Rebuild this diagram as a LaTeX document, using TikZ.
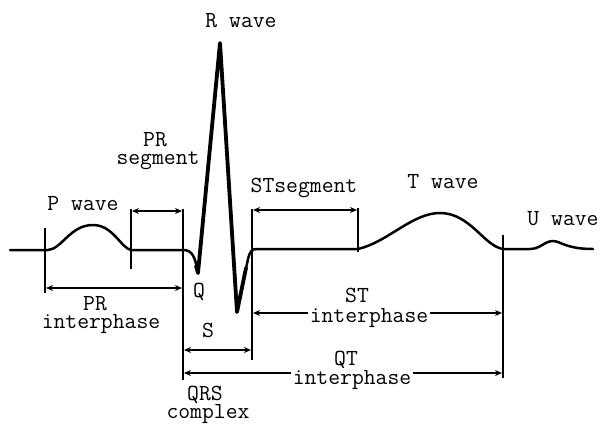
\documentclass[tikz,border=0pt]{standalone}
\usetikzlibrary{arrows.meta}
\begin{document}
\begin{tikzpicture}[x=1pt,y=-1pt,
  lbl/.style={anchor=base,inner sep=0pt,font=\fontsize{23}{23}\ttfamily},
  cut/.style={lbl,fill=white,inner xsep=1.5pt,inner ysep=2pt},
  tick/.style={line width=1.8pt},
  span/.style={line width=1.8pt,{Stealth[length=7pt,width=6pt]}-{Stealth[length=7pt,width=6pt]}},
  trace/.style={line width=2.5pt,line join=round,line cap=round}]
\useasboundingbox[fill=white] (0,0) rectangle (600,424);
% vertical ticks
\coordinate (v1t) at (45,228); \coordinate (v1b) at (45,293);
\coordinate (v2t) at (131,209); \coordinate (v2b) at (131,269);
\coordinate (v3t) at (183,209); \coordinate (v3b) at (183,380);
\coordinate (v4t) at (252,209); \coordinate (v4b) at (252,360);
\coordinate (v5t) at (358,208); \coordinate (v5b) at (358,252);
\coordinate (v6t) at (503,235); \coordinate (v6b) at (503,378);
\foreach \v in {v1,v2,v3,v4,v5,v6} \draw[tick] (\v t) -- (\v b);
% trace
\draw[trace] (10,250) -- (48,250)
  .. controls (62,249) and (70,225) .. (93,225)
  .. controls (113,225) and (121,248) .. (131,250) -- (183,250)
  .. controls (192,250) and (195,256) .. (198,273) -- (220,43) -- (237,312) -- (248,259)
  .. controls (250,251) and (252,249) .. (257,249) -- (358,249)
  .. controls (388,242) and (412,213) .. (440,213)
  .. controls (470,213) and (484,246) .. (503,249) -- (530,249)
  .. controls (540,249) and (545,241) .. (553,241)
  .. controls (560,241) and (566,249) .. (593,249);
\draw[trace,line width=3.8pt] (196,266) -- (198,273) -- (220,43) -- (237,312) -- (246,268);
% spans
\coordinate (prs1) at (132,211); \coordinate (prs2) at (182,211);
\coordinate (sts1) at (253,210); \coordinate (sts2) at (357,210);
\coordinate (pri1) at (46,288);  \coordinate (pri2) at (182,288);
\coordinate (s1) at (184,350);   \coordinate (s2) at (251,350);
\coordinate (sti1) at (253,313); \coordinate (sti2) at (502,313);
\coordinate (qti1) at (184,373); \coordinate (qti2) at (502,373);
\draw[span] (prs1) -- (prs2);
\draw[span] (sts1) -- (sts2);
\draw[span] (pri1) -- (pri2);
\draw[span] (s1) -- (s2);
\draw[span] (sti1) -- (sti2);
\draw[span] (qti1) -- (qti2);
% labels
\node[lbl] (rw) at (241,27) {R wave};
\node[lbl] (prsA) at (155,146) {PR};
\node[lbl] (prsB) at (158,164) {segment};
\node[lbl] (pw) at (83,210) {P wave};
\node[lbl] (sts) at (304,192) {STsegment};
\node[lbl] (tw) at (443,188) {T wave};
\node[lbl] (uw) at (563,225) {U wave};
\node[lbl] (priA) at (95,310) {PR};
\node[lbl] (priB) at (101,328) {interphase};
\node[lbl] (q) at (199,297) {Q};
\node[lbl] (s) at (208,337) {S};
\node[lbl] (stiA) at (357,302) {ST};
\node[cut] (stiB) at (369,322) {interphase};
\node[lbl] (qtiA) at (346,365) {QT};
\node[cut] (qtiB) at (352,384) {interphase};
\node[lbl] (qrsA) at (205,400) {QRS};
\node[lbl] (qrsB) at (208,418) {complex};
\end{tikzpicture}
\end{document}
